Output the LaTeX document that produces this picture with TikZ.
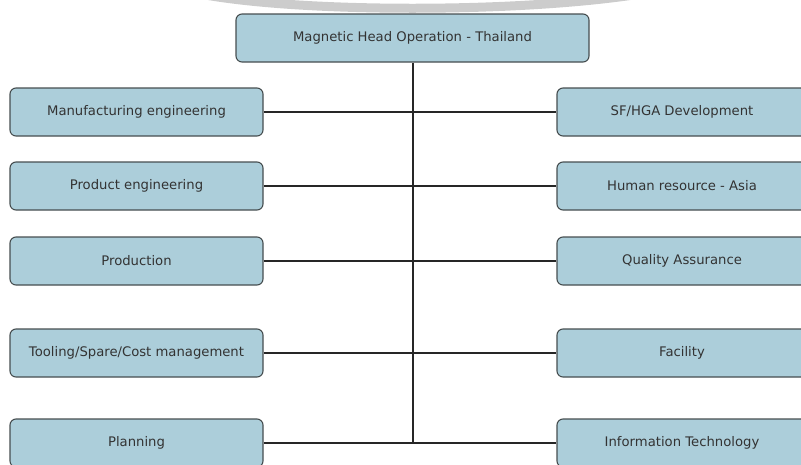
\documentclass[tikz,border=0pt]{standalone}
\usepackage{fontspec}
\setmainfont{DejaVu Sans}
\definecolor{boxblue}{RGB}{172,206,218}
\definecolor{boxline}{RGB}{70,78,80}
\tikzset{
  unit/.style={draw=boxline,fill=boxblue,rounded corners=6pt,line width=1.1pt,
    minimum height=48pt,inner sep=0pt,text=black!80,font=\fontsize{13.2}{15}\selectfont},
  lunit/.style={unit,minimum width=253pt},
  runit/.style={unit,minimum width=250pt},
  link/.style={black!85,line width=2pt}
}
\begin{document}
\begin{tikzpicture}[x=1pt,y=-1pt]
\clip (0,0) rectangle (801,464);
%\draw[step=50,lightgray,very thin] (0,0) grid (801,464);

% faint arc at the top
\draw[black!20,line width=9pt] (200,-6) .. controls (300,13) and (520,13) .. (640,-6);

\node[unit,minimum width=353pt] (top) at (412.5,38) {Magnetic Head Operation - Thailand};

\node[lunit] (l1) at (136.5,112) {Manufacturing engineering};
\node[lunit] (l2) at (136.5,186) {Product engineering};
\node[lunit] (l3) at (136.5,261) {Production};
\node[lunit] (l4) at (136.5,353) {Tooling/Spare/Cost management};
\node[lunit] (l5) at (136.5,443) {Planning};

\node[runit] (r1) at (682,112) {SF/HGA Development};
\node[runit] (r2) at (682,186) {Human resource - Asia};
\node[runit] (r3) at (682,261) {Quality Assurance};
\node[runit] (r4) at (682,353) {Facility};
\node[runit] (r5) at (682,443) {Information Technology};

\draw[link] (top.south) -- (top.south |- l5.east);
\foreach \i in {1,...,5}
  \draw[link] (l\i.east) -- (r\i.west);
\end{tikzpicture}
\end{document}
